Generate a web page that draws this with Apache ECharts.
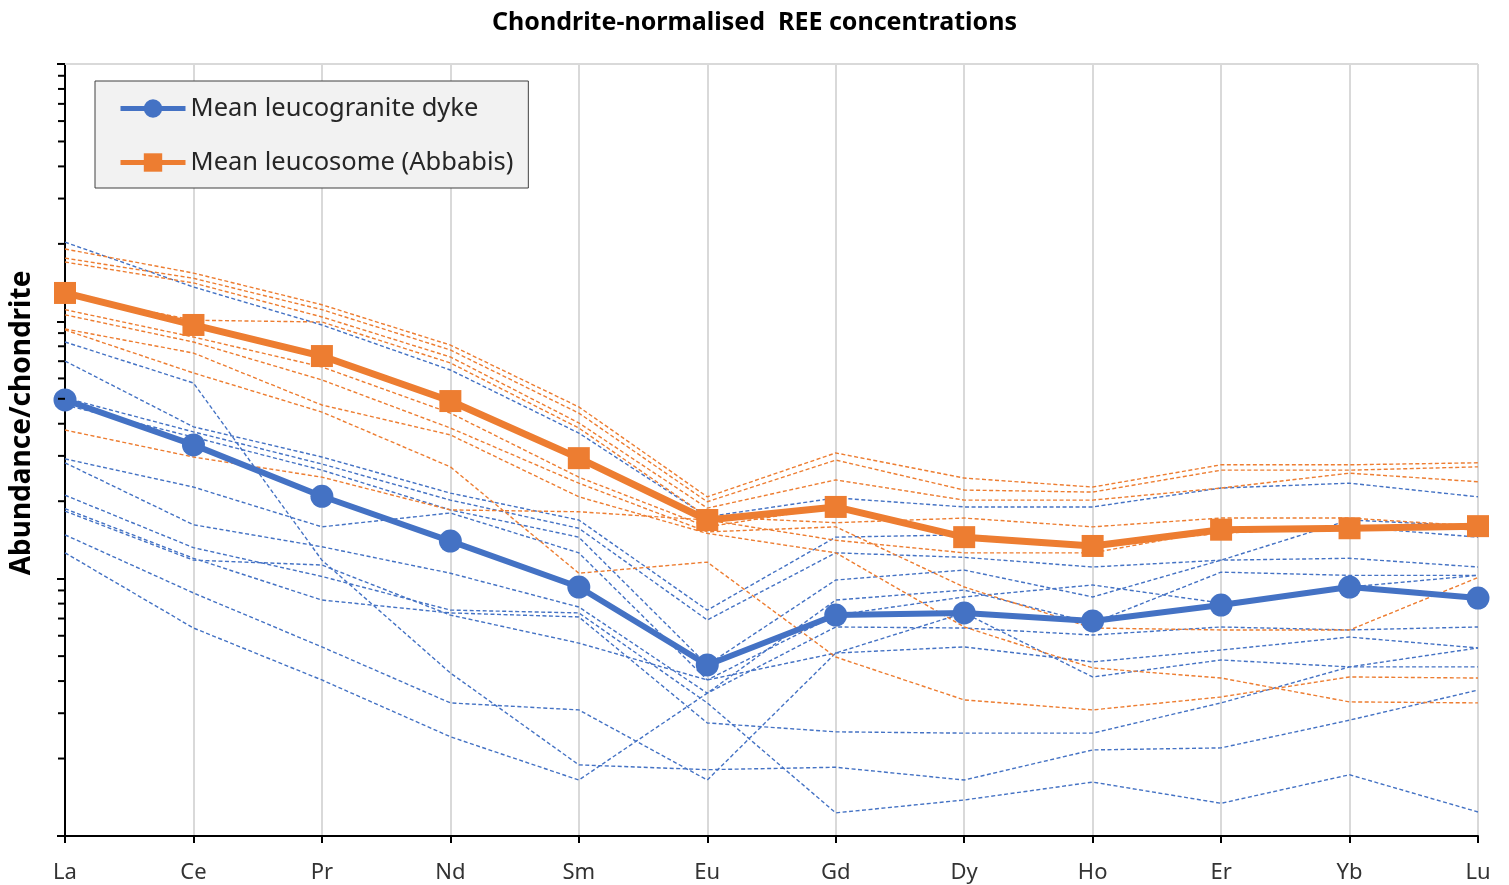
<!DOCTYPE html>
<html>
<head>
<meta charset="utf-8">
<title>Chondrite-normalised REE concentrations</title>
<script src="https://cdn.jsdelivr.net/npm/echarts@6/dist/echarts.min.js"></script>
<style>
  html, body { margin: 0; padding: 0; background: #ffffff; }
  #chart { width: 1509px; height: 885px; }
</style>
</head>
<body>
<div id="chart"></div>
<script>
// Rare earth elements along the x axis
const elements = ['La', 'Ce', 'Pr', 'Nd', 'Sm', 'Eu', 'Gd', 'Dy', 'Ho', 'Er', 'Yb', 'Lu'];

// Mean chondrite-normalised patterns
const meanDyke = [49.5, 33.1, 20.9, 14.0, 9.28, 4.62, 7.22, 7.36, 6.85, 7.90, 9.28, 8.41];
const meanLeucosome = [128.9, 96.8, 73.3, 49.0, 29.4, 16.9, 19.0, 14.5, 13.4, 15.5, 15.7, 16.0];

// Individual leucogranite dyke samples
const dyke01 = [203, 136, 96.8, 64.7, 36.8, 17.4, 20.6, 19.0, 19.0, 22.5, 23.5, 20.8];
const dyke02 = [83.1, 57.6, 11.8, 4.30, 1.89, 1.81, 1.85, 1.65, 2.16, 2.20, 2.82, 3.69];
const dyke03 = [70.1, 38.9, 29.7, 21.5, 16.9, 7.55, 14.5, 14.8, 13.5, 15.5, 15.9, 14.5];
const dyke04 = [50.4, 37.2, 27.9, 20.2, 15.7, 6.91, 12.6, 12.1, 11.1, 11.8, 12.0, 11.1];
const dyke05 = [47.3, 35.5, 26.4, 18.5, 14.5, 4.62, 9.88, 10.8, 8.49, 11.8, 16.9, 16.0];
const dyke06 = [29.2, 22.7, 15.9, 18.0, 12.6, 4.04, 7.22, 8.49, 9.45, 8.04, 9.28, 10.3];
const dyke07 = [28.2, 16.2, 13.3, 10.5, 7.76, 3.59, 6.49, 6.43, 6.04, 6.49, 6.32, 6.49];
const dyke08 = [21.1, 13.2, 10.2, 7.55, 7.36, 3.29, 1.23, 1.38, 1.62, 1.34, 1.73, 1.24];
const dyke09 = [18.7, 12.0, 8.26, 7.36, 7.10, 2.75, 2.54, 2.51, 2.51, 3.29, 4.54, 4.54];
const dyke10 = [18.3, 11.8, 11.3, 7.22, 5.62, 4.04, 5.14, 5.43, 4.75, 5.28, 5.93, 5.38];
const dyke11 = [14.8, 8.80, 5.43, 3.29, 3.09, 1.65, 5.14, 7.36, 4.15, 4.83, 4.54, 5.38];
const dyke12 = [12.6, 6.43, 4.04, 2.43, 1.65, 3.59, 8.26, 9.03, 6.72, 10.6, 10.3, 10.3];

// Individual Abbabis leucosome samples
const leucosome01 = [191, 154, 116, 80.9, 46.5, 20.8, 30.8, 24.6, 22.7, 27.7, 27.7, 28.2];
const leucosome02 = [176, 147, 111, 77.4, 44.0, 19.9, 28.9, 22.1, 21.7, 26.4, 26.4, 27.2];
const leucosome03 = [170, 141, 104, 72.7, 40.3, 18.8, 24.2, 20.2, 20.2, 22.5, 25.7, 23.8];
const leucosome04 = [127, 101, 99.4, 68.9, 38.5, 17.4, 16.5, 17.2, 15.9, 17.2, 17.2, 16.0];
const leucosome05 = [111, 86.9, 66.5, 44.0, 24.8, 15.9, 19.0, 14.5, 13.5, 15.0, 15.9, 15.5];
const leucosome06 = [106, 83.1, 59.2, 38.5, 23.5, 15.2, 15.9, 9.28, 6.43, 6.32, 6.32, 10.1];
const leucosome07 = [93.4, 75.3, 47.3, 36.2, 20.8, 15.0, 12.6, 6.49, 4.50, 4.11, 3.32, 3.29];
const leucosome08 = [92.6, 63.0, 44.4, 27.2, 10.5, 11.6, 4.96, 3.38, 3.09, 3.47, 4.15, 4.11];
const leucosome09 = [37.8, 29.7, 24.8, 18.5, 18.2, 16.9, 14.1, 12.6, 12.6, 15.5, 15.5, 16.0];

// Intermediate log-axis tick values (2..9 of each decade)
const minorTickValues = [2, 3, 4, 5, 6, 7, 8, 9, 20, 30, 40, 50, 60, 70, 80, 90, 200, 300, 400, 500, 600, 700, 800, 900];

const dykeSamples = [dyke01, dyke02, dyke03, dyke04, dyke05, dyke06, dyke07, dyke08, dyke09, dyke10, dyke11, dyke12];
const leucosomeSamples = [leucosome01, leucosome02, leucosome03, leucosome04, leucosome05, leucosome06, leucosome07, leucosome08, leucosome09];

const BLUE = '#4472C4';
const ORANGE = '#ED7D31';
const FONT = '"Noto Sans", "Open Sans", sans-serif';

function sampleSeries(name, data, color) {
  return {
    name: name,
    type: 'line',
    data: data,
    symbol: 'none',
    silent: true,
    z: 2,
    lineStyle: { color: color, width: 1.4, type: [4, 2.5] }
  };
}

const series = [];
dykeSamples.forEach((d, i) => series.push(sampleSeries('Dyke sample ' + (i + 1), d, BLUE)));
leucosomeSamples.forEach((d, i) => series.push(sampleSeries('Leucosome sample ' + (i + 1), d, ORANGE)));

series.push({
  name: 'Mean leucogranite dyke',
  type: 'line',
  data: meanDyke,
  symbol: 'circle',
  symbolSize: 23,
  z: 6,
  lineStyle: { color: BLUE, width: 6 },
  itemStyle: { color: BLUE },
  // top frame line of the plot area at the axis maximum
  markLine: {
    silent: true,
    symbol: 'none',
    label: { show: false },
    lineStyle: { color: '#d9d9d9', width: 2, type: 'solid' },
    data: [{ yAxis: 1000 }]
  }
});
series.push({
  name: 'Mean leucosome (Abbabis)',
  type: 'line',
  data: meanLeucosome,
  symbol: 'rect',
  symbolSize: 22,
  z: 7,
  lineStyle: { color: ORANGE, width: 7 },
  itemStyle: { color: ORANGE }
});

// Intermediate ticks on the logarithmic axis
series.push({
  name: 'log ticks',
  type: 'custom',
  silent: true,
  z: 10,
  data: minorTickValues.map(v => [0, v]),
  encode: { x: 0, y: 1 },
  renderItem: function (params, api) {
    const p = api.coord([api.value(0), api.value(1)]);
    return {
      type: 'line',
      shape: { x1: p[0] - 7, y1: p[1], x2: p[0], y2: p[1] },
      style: { stroke: '#000000', lineWidth: 2 }
    };
  }
});

const chart = echarts.init(document.getElementById('chart'), null, { renderer: 'canvas' });
chart.setOption({
  animation: false,
  backgroundColor: '#ffffff',
  title: {
    text: 'Chondrite-normalised  REE concentrations',
    left: 'center',
    top: 5,
    textStyle: { fontFamily: FONT, fontSize: 25, fontWeight: 'bold', color: '#000000' }
  },
  grid: { left: 65, right: 31, top: 64, bottom: 49, containLabel: false },
  legend: {
    data: ['Mean leucogranite dyke', 'Mean leucosome (Abbabis)'],
    orient: 'vertical',
    left: 95,
    top: 81,
    padding: [14, 15, 12, 23],
    itemWidth: 65,
    itemHeight: 23,
    itemGap: 27,
    backgroundColor: '#f2f2f2',
    borderColor: '#404040',
    borderWidth: 1,
    lineStyle: { width: 5 },
    textStyle: { fontFamily: FONT, fontSize: 25.5, color: '#262626', lineHeight: 27 }
  },
  xAxis: {
    type: 'category',
    data: elements,
    boundaryGap: false,
    axisLine: { lineStyle: { color: '#000000', width: 2 } },
    axisTick: { show: true, length: 7, lineStyle: { color: '#000000', width: 2 } },
    axisLabel: { fontFamily: FONT, fontSize: 22, color: '#333333', margin: 26 },
    splitLine: { show: true, lineStyle: { color: '#d9d9d9', width: 2 } }
  },
  yAxis: {
    type: 'log',
    logBase: 10,
    min: 1,
    max: 1000,
    axisLine: { show: true, lineStyle: { color: '#000000', width: 2 } },
    axisTick: { show: true, length: 8, lineStyle: { color: '#000000', width: 2 } },
    axisLabel: { show: false },
    splitLine: { show: false }
  },
  graphic: [{
    type: 'text',
    x: 22,
    y: 423,
    rotation: Math.PI / 2,
    style: {
      text: 'Abundance/chondrite',
      fontFamily: FONT,
      fontSize: 28,
      fontWeight: 'bold',
      fill: '#000000',
      align: 'center',
      verticalAlign: 'middle'
    }
  }],
  series: series
});
</script>
</body>
</html>
